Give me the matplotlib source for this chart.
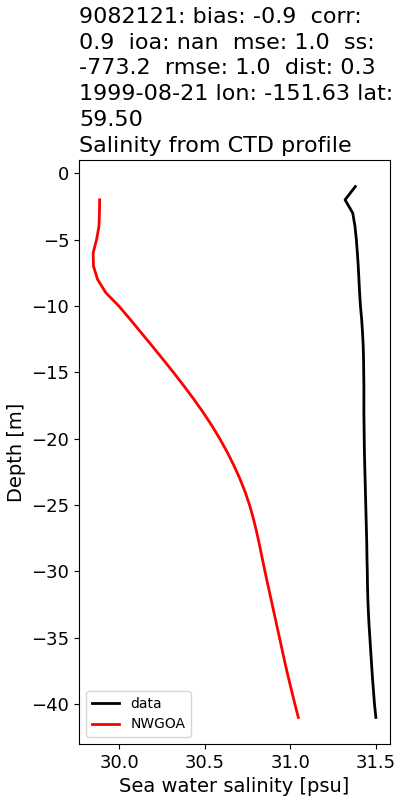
import matplotlib
matplotlib.use("Agg")
import matplotlib.pyplot as plt

# observed CTD profile
data_depth = [-1, -2, -3, -4, -5, -6, -7, -8, -9, -10, -11, -12, -13, -14,
              -15, -16, -17, -18, -19, -20, -21, -22, -23, -24, -25, -26, -27,
              -28, -29, -30, -31, -32, -33, -34, -35, -36, -37, -38, -39, -40, -41]
data_salt = [31.38, 31.32, 31.365, 31.378, 31.386, 31.392, 31.397, 31.401, 31.405,
             31.41, 31.417, 31.422, 31.426, 31.428, 31.429, 31.43, 31.43, 31.43,
             31.431, 31.432, 31.433, 31.435, 31.437, 31.439, 31.441, 31.443, 31.445,
             31.447, 31.448, 31.45, 31.451, 31.453, 31.456, 31.46, 31.465, 31.47,
             31.475, 31.48, 31.486, 31.492, 31.50]

# model profile
model_depth = [-2, -3, -4, -5, -6, -7, -8, -9, -10, -11, -12, -13, -14, -15,
               -16, -17, -18, -19, -20, -21, -22, -23, -24, -25, -26, -27, -28,
               -29, -30, -31, -32, -33, -34, -35, -36, -37, -38, -39, -40, -41]
model_salt = [29.886, 29.885, 29.882, 29.868, 29.848, 29.850, 29.874, 29.922,
              29.998, 30.064, 30.128, 30.192, 30.255, 30.317, 30.377, 30.435,
              30.490, 30.541, 30.588, 30.631, 30.670, 30.705, 30.736, 30.762,
              30.784, 30.803, 30.820, 30.836, 30.852, 30.869, 30.886, 30.903,
              30.920, 30.937, 30.954, 30.971, 30.989, 31.008, 31.027, 31.047]

title = ("9082121: bias: -0.9  corr:\n0.9  ioa: nan  mse: 1.0  ss:\n"
         "-773.2  rmse: 1.0  dist: 0.3\n1999-08-21 lon: -151.63 lat:\n"
         "59.50\nSalinity from CTD profile")

fig = plt.figure(figsize=(4, 8), dpi=100)
ax = fig.add_axes([0.1975, 0.07, 0.7775, 0.73])

ax.plot(data_salt, data_depth, color="k", lw=2, label="data")
ax.plot(model_salt, model_depth, color="r", lw=2, label="NWGOA")

ax.set_xlabel("Sea water salinity [psu]", fontsize=14)
ax.set_ylabel("Depth [m]", fontsize=14)
ax.tick_params(labelsize=13)
ax.set_xticks([30.0, 30.5, 31.0, 31.5])
ax.set_title(title, loc="left", fontsize=16, linespacing=1.36)
ax.legend(loc="lower left", fontsize=10)

fig.savefig("out.png", dpi=100)
